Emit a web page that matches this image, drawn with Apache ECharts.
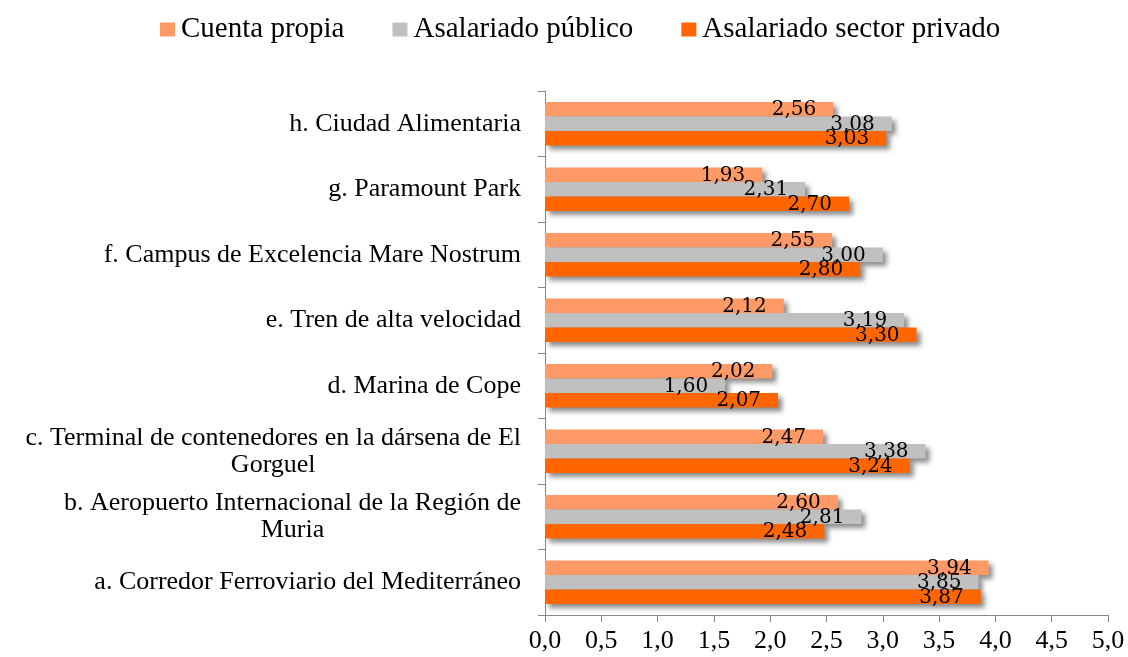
<!DOCTYPE html>
<html>
<head>
<meta charset="utf-8">
<script src="https://cdn.jsdelivr.net/npm/echarts@6/dist/echarts.min.js"></script>
<style>
  html, body { margin: 0; padding: 0; background: #fff; }
  #main { width: 1128px; height: 657px; }
</style>
</head>
<body>
<div id="main"></div>
<script>
// categories bottom -> top
var categorias = [
  "a. Corredor Ferroviario del Mediterráneo",
  "b. Aeropuerto Internacional de la Región de\nMuria",
  "c. Terminal de contenedores en la dársena de El\nGorguel",
  "d. Marina de Cope",
  "e. Tren de alta velocidad",
  "f. Campus de Excelencia Mare Nostrum",
  "g. Paramount Park",
  "h. Ciudad Alimentaria"
];
var cuentaPropia = [3.94, 2.60, 2.47, 2.02, 2.12, 2.55, 1.93, 2.56];
var asalariadoPublico = [3.85, 2.81, 3.38, 1.60, 3.19, 3.00, 2.31, 3.08];
var asalariadoPrivado = [3.87, 2.48, 3.24, 2.07, 3.30, 2.80, 2.70, 3.03];

var serif = "'Liberation Serif', 'Times New Roman', serif";

var myChart = echarts.init(document.getElementById("main"));

function etiqueta() {
  return {
    show: true,
    position: "insideRight",
    distance: 17,
    offset: [0, 1],
    color: "#000",
    fontFamily: "'DejaVu Serif', serif",
    fontSize: 20,
    formatter: function (p) {
      return p.value.toFixed(2).replace(".", ",");
    }
  };
}

var sombra = {
  shadowColor: "rgba(0,0,0,0.45)",
  shadowBlur: 5,
  shadowOffsetX: 4,
  shadowOffsetY: 4
};

var option = {
  animation: false,
  legend: {
    top: 10,
    left: 155,
    itemWidth: 15,
    itemHeight: 14,
    itemGap: 48,
    textStyle: { fontFamily: serif, fontSize: 29, color: "#000", padding: [0, 0, 0, 1] },
    icon: "rect"
  },
  grid: { left: 545, right: 20, top: 91, bottom: 42, containLabel: false },
  xAxis: {
    type: "value",
    min: 0,
    max: 5,
    interval: 0.5,
    axisLine: { show: true, lineStyle: { color: "#868686" } },
    axisTick: { show: true, length: 7, lineStyle: { color: "#868686" } },
    splitLine: { show: false },
    axisLabel: {
      color: "#000",
      fontFamily: serif,
      fontSize: 26,
      margin: 13,
      formatter: function (v) { return v.toFixed(1).replace(".", ","); }
    }
  },
  yAxis: {
    type: "category",
    data: categorias,
    axisLine: { show: true, lineStyle: { color: "#868686" } },
    axisTick: { show: true, length: 7, lineStyle: { color: "#868686" } },
    axisLabel: {
      color: "#000",
      fontFamily: serif,
      fontSize: 26,
      lineHeight: 27,
      margin: 24,
      formatter: function (v) {
        return v.split("\n").map(function (l) { return "{c|" + l + "}"; }).join("\n");
      },
      rich: {
        c: { align: "center", fontFamily: serif, fontSize: 26, lineHeight: 27, color: "#000" }
      }
    }
  },
  series: [
    {
      name: "Cuenta propia",
      type: "bar",
      data: cuentaPropia,
      barWidth: 14.5,
      barGap: "0%",
      itemStyle: Object.assign({ color: "#FF9966" }, sombra),
      label: etiqueta()
    },
    {
      name: "Asalariado público",
      type: "bar",
      data: asalariadoPublico,
      barWidth: 14.5,
      barGap: "0%",
      itemStyle: Object.assign({ color: "#C0C0C0" }, sombra),
      label: etiqueta()
    },
    {
      name: "Asalariado sector privado",
      type: "bar",
      data: asalariadoPrivado,
      barWidth: 14.5,
      barGap: "0%",
      itemStyle: Object.assign({ color: "#FF6600" }, sombra),
      label: etiqueta()
    }
  ]
};

myChart.setOption(option);
</script>
</body>
</html>
